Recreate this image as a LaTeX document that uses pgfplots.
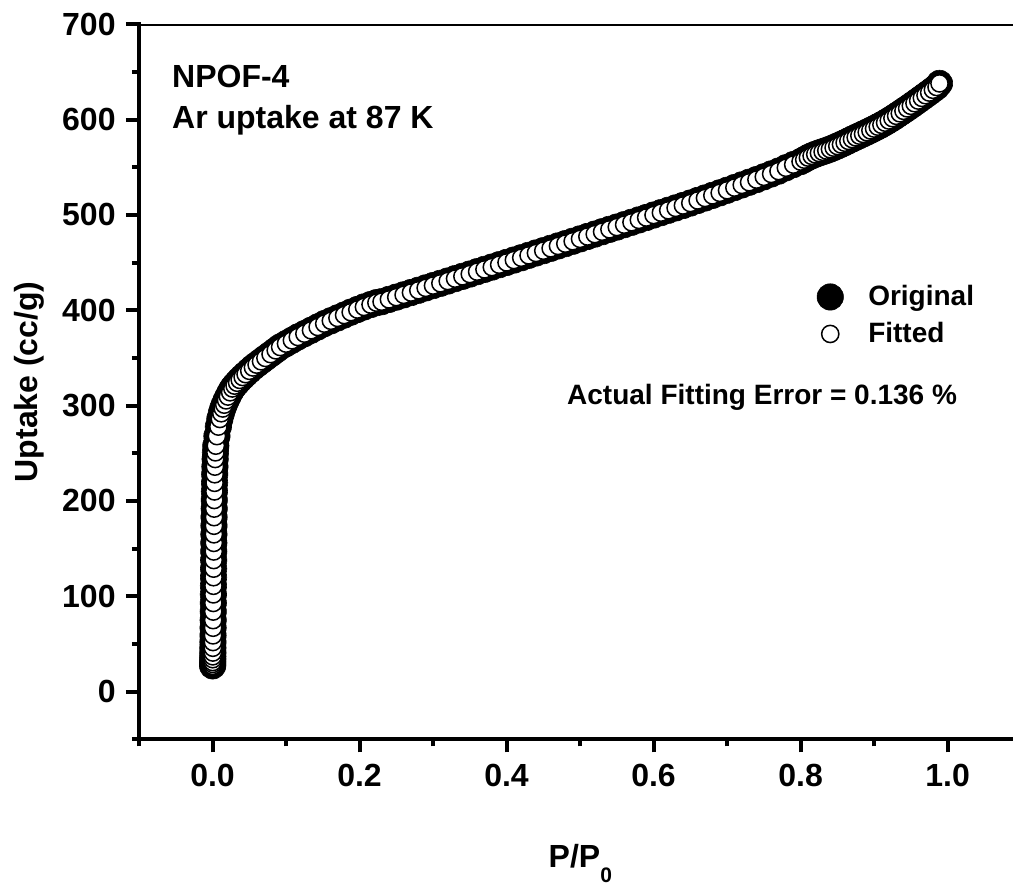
\documentclass[border=0pt]{standalone}
\usepackage{pgfplots}
\pgfplotsset{compat=1.18}
\usepackage{pgfplotstable}
\usepackage{fontspec}
\setmainfont{Liberation Sans}
\pgfplotstableread{
x y
0.0002 27
0.0003 29
0.0003 31
0.0004 34
0.0004 37
0.0005 41
0.0005 46
0.0006 52
0.0007 59
0.0008 67
0.0009 75
0.0010 84
0.0011 93
0.0012 102
0.0013 111
0.0014 120
0.0015 129
0.0016 138
0.0017 147
0.0018 156
0.0019 165
0.0020 174
0.0021 183
0.0023 192
0.0024 201
0.0026 210
0.0028 219
0.0030 228
0.0033 236
0.0036 244
0.0040 251
0.0045 258
0.0060 268
0.0080 278
0.0100 286
0.0120 292
0.0140 297
0.0160 301
0.0185 305.5
0.0210 309.5
0.0240 314
0.0270 318
0.0300 321
0.0335 324
0.0370 327
0.0410 330
0.0450 333
0.0500 336.5
0.0550 340
0.0600 343
0.0660 346.5
0.0720 350
0.0790 354
0.0860 358
0.0920 361.5
0.1000 365
0.1080 368.5
0.1160 372
0.1250 375.5
0.1340 379
0.1430 382.5
0.1520 386
0.1610 389
0.1700 392
0.1790 395
0.1880 398
0.1970 400.8
0.2060 403.5
0.2150 406
0.2230 408
0.23 409.0
0.24 411.4
0.25 413.8
0.26 416.2
0.27 418.6
0.28 421.0
0.29 423.5
0.30 425.9
0.31 428.3
0.32 430.7
0.33 433.2
0.34 435.6
0.35 438.0
0.36 440.5
0.37 442.9
0.38 445.3
0.39 447.8
0.40 450.2
0.41 452.7
0.42 455.1
0.43 457.6
0.44 460.1
0.45 462.5
0.46 465.0
0.47 467.5
0.48 469.9
0.49 472.4
0.50 474.9
0.51 477.4
0.52 479.9
0.53 482.4
0.54 484.9
0.55 487.3
0.56 489.8
0.57 492.3
0.58 494.8
0.59 497.3
0.60 499.9
0.61 502.4
0.62 504.9
0.63 507.4
0.64 509.9
0.65 512.5
0.66 515.2
0.67 517.8
0.68 520.5
0.69 523.2
0.70 525.9
0.71 528.7
0.72 531.5
0.73 534.3
0.74 537.1
0.75 540.0
0.76 543.0
0.77 546.0
0.78 549.5
0.79 552.8
0.80 556.0
0.805 558.0
0.81 560.2
0.815 562.0
0.82 563.6
0.825 565.0
0.83 566.3
0.835 567.6
0.84 569.0
0.845 570.6
0.85 572.3
0.855 574.0
0.86 575.8
0.865 577.7
0.87 579.6
0.875 581.4
0.88 583.2
0.885 585.0
0.89 586.8
0.895 588.7
0.90 590.6
0.905 592.6
0.91 594.6
0.915 596.8
0.92 599.1
0.925 601.5
0.93 604.0
0.935 606.6
0.94 609.2
0.945 611.8
0.95 614.5
0.955 617.2
0.96 620.0
0.965 622.8
0.97 625.6
0.975 628.4
0.98 631.3
0.985 634.2
0.989 638.0
}\isodata
\begin{document}
\begin{tikzpicture}
\begin{axis}[
  scale only axis, width=437pt, height=357.5pt,
  xmin=-0.1, xmax=1.089, ymin=-50, ymax=700,
  axis x line*=bottom, axis y line*=left,
  axis line style={line width=2.15pt, line cap=rect},
  tick align=outside,
  major tick length=6.5pt, minor tick length=3.5pt,
  every tick/.style={black, line width=2pt},
  xtick={0,0.2,0.4,0.6,0.8,1.0},
  xticklabels={0.0,0.2,0.4,0.6,0.8,1.0},
  minor xtick={-0.1,0.1,0.3,0.5,0.7,0.9},
  ytick={0,100,200,300,400,500,600,700},
  minor ytick={-50,50,150,250,350,450,550,650},
  tick label style={font=\fontsize{16}{19}\selectfont\bfseries, inner sep=0pt},
  xticklabel style={yshift=-5.5pt},
  yticklabel style={xshift=-5pt},
  /pgf/number format/assume math mode=true,
  xlabel={P/P\raisebox{-7.5pt}{\fontsize{10.5}{12}\selectfont 0}},
  ylabel={Uptake (cc/g)},
  every axis x label/.style={at={(axis description cs:0.505,-0.18)}, anchor=base, inner sep=0pt, font=\fontsize{16}{19}\selectfont\bfseries},
  every axis y label/.style={at={(axis description cs:-0.1259,0.5)}, rotate=90, anchor=center, inner sep=0pt, font=\fontsize{16}{19}\selectfont\bfseries},
  legend cell align=left,
  legend image code/.code={\path[draw=none,fill=none] (0pt,-7pt) rectangle (14pt,7pt);
    \draw[mark repeat=2,mark phase=2,#1] plot coordinates {(0pt,0pt)(7pt,0pt)(14pt,0pt)};},
  legend style={draw=none, fill=none, at={(axis cs:0.8208,429.1)}, anchor=north west,
    font=\fontsize{14}{17}\selectfont\bfseries, row sep=4.5pt, column sep=11pt, nodes={inner sep=1pt}, inner sep=0pt},
]
\addplot[only marks, mark=*, mark size=6.6pt, mark options={fill=black, draw=black, line width=0.3pt}] table[x=x,y=y] {\isodata};
\addlegendentry{Original}
\addplot[only marks, mark=*, mark size=4.3pt, mark options={fill=white, draw=black, line width=0.75pt}] table[x=x,y=y] {\isodata};
\addlegendentry{Fitted}
\draw[line width=2.15pt, line cap=rect] (rel axis cs:0,1) -- (rel axis cs:1,1);
\node[anchor=base west, inner sep=0pt, font=\fontsize{16}{19}\selectfont\bfseries] at (axis cs:-0.0554,633.2) {NPOF-4};
\node[anchor=base west, inner sep=0pt, font=\fontsize{16}{19}\selectfont\bfseries] at (axis cs:-0.0554,591.2) {Ar uptake at 87 K};
\node[anchor=base west, inner sep=0pt, font=\fontsize{14}{17}\selectfont\bfseries] at (axis cs:0.482,300.7) {Actual Fitting Error = 0.136 \%};
\coordinate (ll) at (rel axis cs:0,0);
\coordinate (ur) at (rel axis cs:1,1);
\end{axis}
\pgfresetboundingbox
\path[use as bounding box] ([shift={(-69.5pt,-73.35pt)}]ll) rectangle ([shift={(0pt,12.15pt)}]ur);
\end{tikzpicture}
\end{document}
